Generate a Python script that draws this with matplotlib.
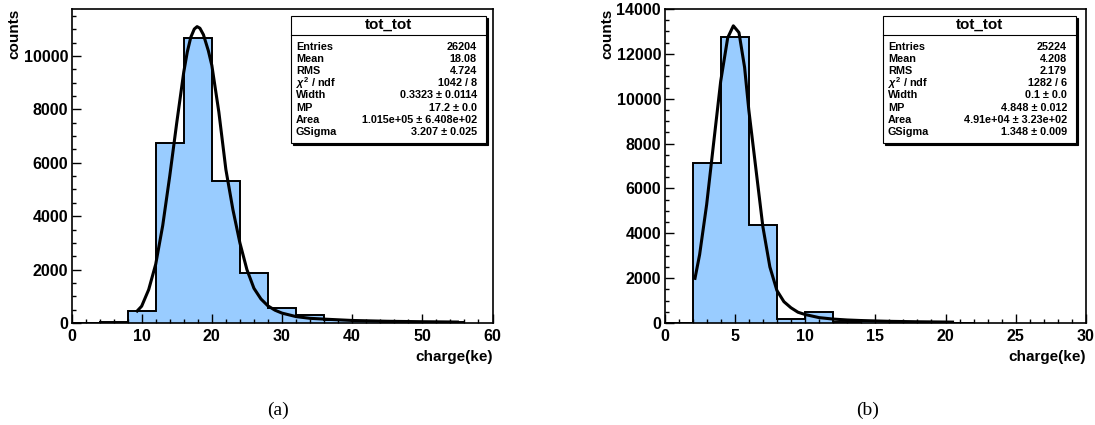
import numpy as np
import matplotlib
matplotlib.use('Agg')
import matplotlib.pyplot as plt
from matplotlib.patches import Rectangle
from matplotlib.ticker import MultipleLocator

plt.rcParams['font.family'] = ['Liberation Sans', 'DejaVu Sans']
plt.rcParams['mathtext.fontset'] = 'custom'
plt.rcParams['mathtext.rm'] = 'Liberation Sans:bold'
plt.rcParams['mathtext.it'] = 'Liberation Sans:bold:italic'

# ---- panel (a) ----
edges_a = np.arange(0, 57, 4)
counts_a = [0, 30, 450, 6740, 10670, 5330, 1870, 555, 290, 110, 70, 50, 35, 20]
fit_x_a = [9.36, 10, 11, 12, 13, 14, 15, 16, 16.5, 17, 17.5, 17.9, 18.3, 18.8, 19.5, 20,
           21, 22, 23, 24, 25, 26, 27, 28, 29, 30, 32, 34, 36.4, 40, 45, 50, 55]
fit_y_a = [450, 630, 1250, 2200, 3650, 5500, 7500, 9400, 10150, 10700, 11010, 11100, 11040,
           10800, 10200, 9650, 7900, 5750, 4250, 3000, 2000, 1300, 900, 640, 480, 370, 240,
           175, 140, 95, 65, 48, 36]
stats_a = [("Entries", "26204"), ("Mean", "18.08"), ("RMS", "4.724"),
           (r"$\chi^{2}$ / ndf", "1042 / 8"), ("Width", "0.3323 ± 0.0114"),
           ("MP", "17.2 ± 0.0"), ("Area", "1.015e+05 ± 6.408e+02"),
           ("GSigma", "3.207 ± 0.025")]

# ---- panel (b) ----
edges_b = np.arange(0, 23, 2)
counts_b = [0, 7130, 12740, 4380, 180, 505, 60, 70, 30, 25, 15]
fit_x_b = [2.17, 2.5, 3.0, 3.5, 4.0, 4.5, 4.9, 5.3, 5.7, 6.0, 6.5, 7.0, 7.5, 8.0, 8.5, 9.0,
           9.5, 10, 11, 12, 13, 14, 16, 18, 20.5]
fit_y_b = [1990, 3050, 5280, 8040, 10780, 12720, 13250, 12950, 11400, 9500, 6900, 4300,
           2500, 1450, 950, 680, 480, 380, 240, 175, 135, 110, 75, 55, 40]
stats_b = [("Entries", "25224"), ("Mean", "4.208"), ("RMS", "2.179"),
           (r"$\chi^{2}$ / ndf", "1282 / 6"), ("Width", "0.1 ± 0.0"),
           ("MP", "4.848 ± 0.012"), ("Area", "4.91e+04 ± 3.23e+02"),
           ("GSigma", "1.348 ± 0.009")]

W, H = 1095, 425
fig = plt.figure(figsize=(W / 100, H / 100), dpi=100)


def fx(px):
    return px / W


def fy(py):
    return 1 - py / H


def panel(left_px, right_px, edges, counts, fx_, fy_, xmax, ymax, xmaj, xmin, stats,
          box_px, ylab_x, caption, cap_x):
    ax = fig.add_axes([fx(left_px), fy(323), fx(right_px - left_px), 314 / H])
    ax.stairs(counts, edges, fill=True, color='#99ccff', lw=0)
    ax.stairs(counts, edges, color='black', lw=1.4)
    ax.plot(fx_, fy_, color='black', lw=2.2)
    ax.set_xlim(0, xmax)
    ax.set_ylim(0, ymax)
    ax.xaxis.set_major_locator(MultipleLocator(xmaj))
    ax.xaxis.set_minor_locator(MultipleLocator(xmin))
    ax.yaxis.set_major_locator(MultipleLocator(2000))
    ax.yaxis.set_minor_locator(MultipleLocator(500))
    ax.tick_params(which='both', direction='in', top=False, right=False, width=1)
    ax.tick_params(which='major', length=6.5, labelsize=11.5)
    ax.tick_params(which='minor', length=3.2)
    ax.tick_params(axis='x', pad=4)
    ax.tick_params(axis='y', pad=2.5)
    for lab in ax.get_xticklabels() + ax.get_yticklabels():
        lab.set_fontweight('bold')
    for sp in ax.spines.values():
        sp.set_linewidth(1.2)

    # axis titles
    fig.text(fx(ylab_x), fy(9), 'counts', rotation=90, ha='center', va='top',
             fontsize=11, fontweight='bold')
    fig.text(fx(right_px), fy(357), 'charge(ke)', ha='right', va='center',
             fontsize=11, fontweight='bold')

    # stats box with shadow
    x0, x1, y0, y1 = box_px
    fig.patches.append(Rectangle((fx(x0 + 2), fy(y1 + 2)), fx(x1 - x0), (y1 - y0) / H,
                                 transform=fig.transFigure, facecolor='black',
                                 edgecolor='black', lw=0.8, zorder=5))
    fig.patches.append(Rectangle((fx(x0), fy(y1)), fx(x1 - x0), (y1 - y0) / H,
                                 transform=fig.transFigure, facecolor='white',
                                 edgecolor='black', lw=0.8, zorder=6))
    fig.add_artist(plt.Line2D([fx(x0), fx(x1)], [fy(35), fy(35)], color='black', lw=0.8,
                              transform=fig.transFigure, zorder=7))
    fig.text(fx((x0 + x1) / 2), fy(25), 'tot_tot', ha='center', va='center',
             fontsize=11, fontweight='bold', zorder=8)
    for i, (name, val) in enumerate(stats):
        yy = fy(46.7 + 12.2 * i)
        fig.text(fx(x0 + 5), yy, name, ha='left', va='center', fontsize=7.8,
                 fontweight='bold', zorder=8)
        fig.text(fx(x1 - 9), yy, val, ha='right', va='center', fontsize=7.8,
                 fontweight='bold', zorder=8)

    fig.text(fx(cap_x), fy(410), caption, ha='center', va='center', fontsize=14,
             family='Liberation Serif')
    return ax


panel(71.5, 492.5, edges_a, counts_a, fit_x_a, fit_y_a, 60, 11760, 10, 2, stats_a,
      (291, 486, 15.7, 143), 14, '(a)', 278)
panel(664.5, 1086, edges_b, counts_b, fit_x_b, fit_y_b, 30, 14000, 5, 1, stats_b,
      (883, 1076, 15.7, 143), 607, '(b)', 868)

fig.savefig('out.png', dpi=100)
